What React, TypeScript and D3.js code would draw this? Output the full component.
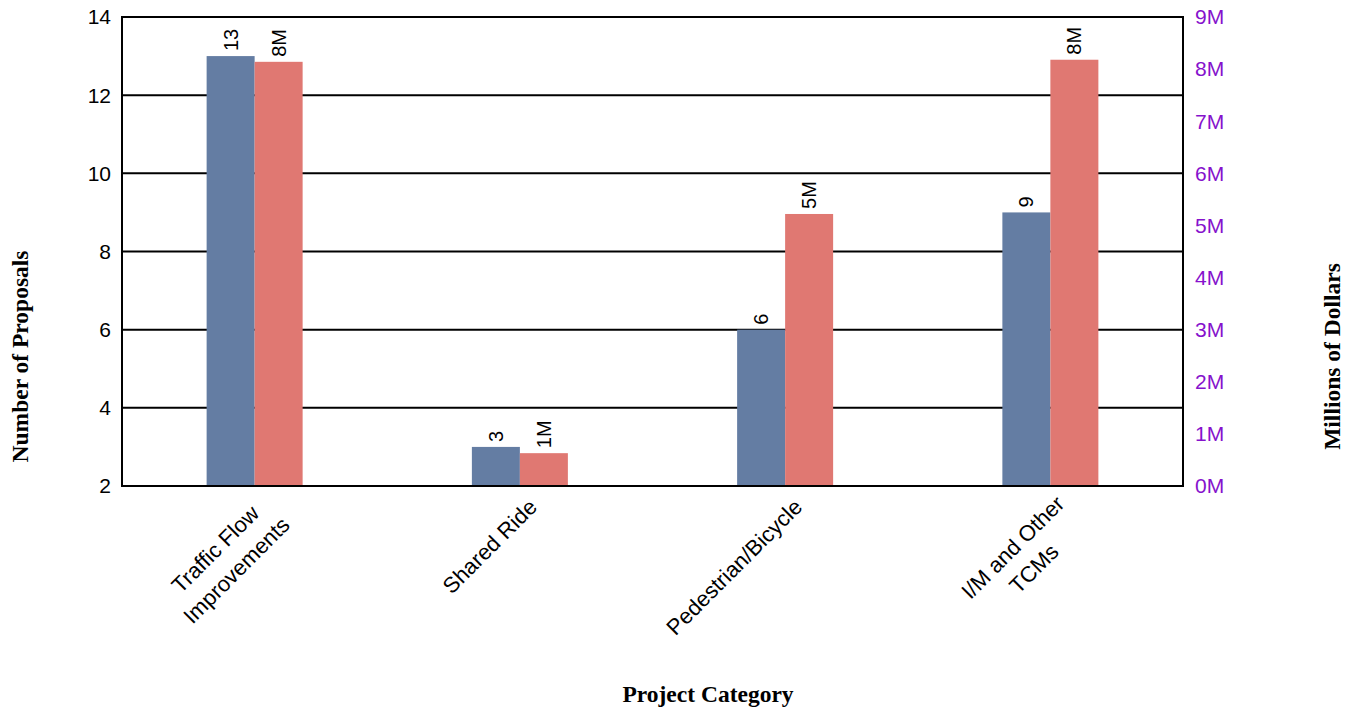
import React from "react";
import * as d3 from "d3";

// Project categories (line breaks as shown on the axis)
const categories: string[][] = [
  ["Traffic Flow", "Improvements"],
  ["Shared Ride"],
  ["Pedestrian/Bicycle"],
  ["I/M and Other", "TCMs"],
];

// Number of proposals per category (left axis)
const proposals: number[] = [13, 3, 6, 9];

// Funding per category, millions of dollars (right axis)
const dollarsM: number[] = [8.14, 0.63, 5.22, 8.18];

const leftTicks: number[] = [2, 4, 6, 8, 10, 12, 14];
const rightTicks: number[] = [0, 1, 2, 3, 4, 5, 6, 7, 8, 9];

const W = 1357;
const H = 713;
const margin = { top: 17, right: 174, bottom: 227, left: 122 };

const BLUE = "#647DA3";
const RED = "#E07872";
const PURPLE = "#8612CC";
const SANS = "'Liberation Sans', Arial, Helvetica, sans-serif";
const SERIF = "'Liberation Serif', 'Times New Roman', Times, serif";

const measure = (() => {
  let ctx: CanvasRenderingContext2D | null = null;
  return (text: string, font: string) => {
    if (!ctx) ctx = document.createElement("canvas").getContext("2d");
    if (!ctx) return text.length * 10;
    ctx.font = font;
    return ctx.measureText(text).width;
  };
})();

export default function App() {
  const x0 = margin.left;
  const x1 = W - margin.right;
  const y0 = margin.top;
  const y1 = H - margin.bottom;

  const xBand = d3
    .scaleBand<number>()
    .domain(d3.range(categories.length))
    .range([x0, x1])
    .paddingInner(0)
    .paddingOuter(0);

  const barW = 48;
  const yLeft = d3.scaleLinear().domain([2, 14]).range([y1, y0]);
  const yRight = d3.scaleLinear().domain([0, 9]).range([y1, y0]);

  const fmtM = (v: number) => `${d3.format(".0f")(v)}M`;

  const catFontSize = 22;
  const catFont = `${catFontSize}px 'Liberation Sans', Arial`;
  const lineGap = 30;
  const lineShift = 10.5;
  const catOffX = 13;
  const catOffY = 17;
  const titleSize = 23.5;

  return (
    <svg width={W} height={H} style={{ display: "block", position: "absolute", left: 0, top: 0 }}>
      <rect x={0} y={0} width={W} height={H} fill="#fff" />

      {/* horizontal gridlines at left-axis ticks */}
      {leftTicks
        .filter((t) => t !== 2 && t !== 14)
        .map((t) => (
          <line key={`g${t}`} x1={x0} x2={x1} y1={yLeft(t)} y2={yLeft(t)} stroke="#000" strokeWidth={2} />
        ))}

      {/* bars */}
      {categories.map((_, i) => {
        const cx = (xBand(i) as number) + xBand.bandwidth() / 2;
        const by = yLeft(proposals[i]);
        const ry = yRight(dollarsM[i]);
        return (
          <g key={`b${i}`}>
            <rect x={cx - barW} y={by} width={barW} height={y1 - by} fill={BLUE} />
            <rect x={cx} y={ry} width={barW} height={y1 - ry} fill={RED} />
          </g>
        );
      })}

      {/* plot frame */}
      <rect x={x0} y={y0} width={x1 - x0} height={y1 - y0} fill="none" stroke="#000" strokeWidth={2} />

      {/* value labels */}
      {categories.map((_, i) => {
        const cx = (xBand(i) as number) + xBand.bandwidth() / 2;
        const bx = cx - barW / 2;
        const rx = cx + barW / 2;
        const by = yLeft(proposals[i]) - 5;
        const ry = yRight(dollarsM[i]) - 5;
        return (
          <g key={`v${i}`} fontFamily={SANS} fontSize={20} fill="#000">
            <text x={bx} y={by} dy="0.35em" transform={`rotate(-90, ${bx}, ${by})`}>
              {proposals[i]}
            </text>
            <text x={rx} y={ry} dy="0.35em" transform={`rotate(-90, ${rx}, ${ry})`}>
              {fmtM(dollarsM[i])}
            </text>
          </g>
        );
      })}

      {/* left axis labels */}
      {leftTicks.map((t) => (
        <text key={`l${t}`} x={x0 - 11} y={yLeft(t)} dy="0.35em" textAnchor="end" fontFamily={SANS} fontSize={21} fill="#000">
          {t}
        </text>
      ))}

      {/* right axis labels */}
      {rightTicks.map((t) => (
        <text key={`r${t}`} x={x1 + 12} y={yRight(t)} dy="0.35em" textAnchor="start" fontFamily={SANS} fontSize={21} fill={PURPLE}>
          {`${t}M`}
        </text>
      ))}

      {/* category labels, rotated 45 degrees, lines centred on each other */}
      {categories.map((lines, i) => {
        const cx = (xBand(i) as number) + xBand.bandwidth() / 2;
        const ax = cx + catOffX;
        const ay = y1 + catOffY;
        const n = lines.length;
        const wMax = d3.max(lines, (l) => measure(l, catFont)) as number;
        return (
          <g key={`c${i}`} transform={`translate(${ax},${ay}) rotate(-45)`} fontFamily={SANS} fontSize={catFontSize} fill="#000">
            {lines.map((l, j) => (
              <text
                key={j}
                x={-wMax / 2}
                y={(j - (n - 1) / 2) * lineGap + (n - 1) * lineShift}
                dy="0.35em"
                textAnchor="middle"
              >
                {l}
              </text>
            ))}
          </g>
        );
      })}

      {/* axis titles */}
      <text
        transform={`translate(20, ${H / 2}) rotate(-90)`}
        textAnchor="middle"
        dy="0.35em"
        fontFamily={SERIF}
        fontWeight="bold"
        fontSize={titleSize}
        fill="#000"
      >
        Number of Proposals
      </text>
      <text
        transform={`translate(1332, ${H / 2}) rotate(-90)`}
        textAnchor="middle"
        dy="0.35em"
        fontFamily={SERIF}
        fontWeight="bold"
        fontSize={titleSize}
        fill="#000"
      >
        Millions of Dollars
      </text>
      <text x={708} y={694} dy="0.35em" textAnchor="middle" fontFamily={SERIF} fontWeight="bold" fontSize={titleSize} fill="#000">
        Project Category
      </text>
    </svg>
  );
}
